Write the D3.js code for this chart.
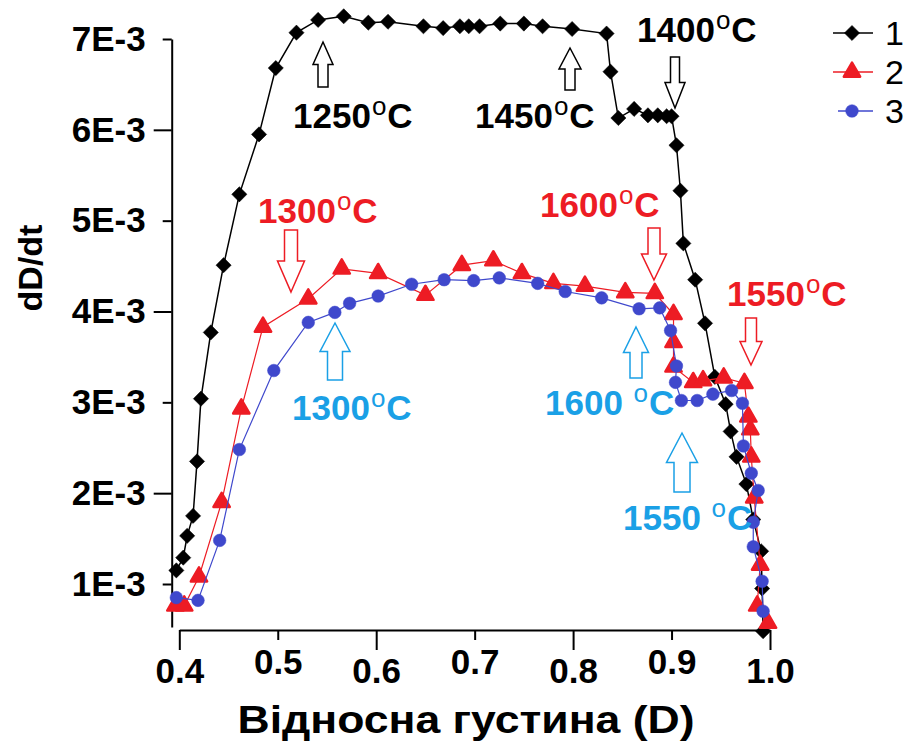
<!DOCTYPE html>
<html>
<head>
<meta charset="utf-8">
<script src="https://cdn.jsdelivr.net/npm/d3@7"></script>
<style>
  body { margin: 0; background: #fff; }
  text { font-family: "Liberation Sans", Arial, sans-serif; }
</style>
</head>
<body>
<div id="chart"></div>
<script>
// relative density D and dD/dt (in units of 1E-3)
const d1 = [0.397,0.404,0.408,0.414,0.418,0.422,0.432,0.445,0.461,0.481,0.498,0.519,0.541,0.567,0.592,0.612,0.648,0.668,0.685,0.694,0.705,0.726,0.750,0.769,0.799,0.834,0.838,0.846,0.862,0.876,0.886,0.895,0.900,0.905,0.909,0.912,0.924,0.934,0.944,0.955,0.960,0.966,0.976,0.983,0.991,0.992,0.993];
const v1 = [1.15,1.29,1.53,1.75,2.35,3.04,3.77,4.51,5.29,5.95,6.68,7.07,7.21,7.25,7.18,7.19,7.14,7.12,7.14,7.14,7.14,7.17,7.17,7.14,7.11,7.06,6.64,6.13,6.23,6.16,6.16,6.15,6.15,5.83,5.33,4.75,4.35,3.87,3.28,2.98,2.68,2.40,2.10,1.71,1.36,0.95,0.48];

const d2 = [0.396,0.405,0.420,0.443,0.463,0.485,0.531,0.565,0.602,0.650,0.687,0.719,0.748,0.780,0.812,0.853,0.883,0.902,0.902,0.902,0.922,0.932,0.953,0.974,0.978,0.980,0.981,0.984,0.990,0.987,0.998];
const v2 = [0.76,0.76,1.08,1.90,2.93,3.83,4.14,4.47,4.42,4.18,4.51,4.56,4.42,4.31,4.28,4.21,4.20,3.97,3.66,3.39,3.22,3.24,3.27,3.21,2.84,2.70,2.40,1.95,1.21,0.76,0.57];

const d3v = [0.397,0.419,0.441,0.461,0.496,0.531,0.558,0.573,0.602,0.636,0.669,0.699,0.725,0.764,0.792,0.829,0.867,0.888,0.899,0.905,0.904,0.910,0.926,0.942,0.961,0.972,0.973,0.981,0.988,0.983,0.983,0.992,0.993];
const v3 = [0.85,0.82,1.48,2.48,3.35,3.88,3.99,4.09,4.17,4.30,4.35,4.34,4.37,4.31,4.22,4.15,4.03,4.04,3.79,3.40,3.22,3.02,3.02,3.09,3.13,2.99,2.52,2.22,2.03,1.68,1.41,1.03,0.70];

const seriesNames = ["1", "2", "3"];
const xTicks = [0.4, 0.5, 0.6, 0.7, 0.8, 0.9, 1.0];
const yTicks = [1, 2, 3, 4, 5, 6, 7];
const yTickLabels = ["1E-3", "2E-3", "3E-3", "4E-3", "5E-3", "6E-3", "7E-3"];

const width = 909, height = 744;

const svg = d3.select("#chart").append("svg")
    .attr("width", width).attr("height", height);

const x = d3.scaleLinear().domain([0.4, 1.0]).range([179.3, 770]);
const y = d3.scaleLinear().domain([1, 7]).range([584, 39]);
const yBottom = 627;

// axes: alternate long/short ticks
const isLongX = v => Math.round(v * 10) % 2 === 0;
const isLongY = v => v % 2 === 0;

function styleAxis(g) {
    g.selectAll("path, line").attr("stroke", "#000").attr("stroke-width", 2);
    g.selectAll("text")
        .attr("fill", "#000")
        .attr("font-size", 35)
        .attr("font-weight", "bold")
        .attr("font-family", "Liberation Sans, Arial, sans-serif");
}

const xAxisG = svg.append("g").attr("transform", "translate(0,630)");
xAxisG.append("g")
    .call(d3.axisBottom(x).tickValues(xTicks.filter(isLongX)).tickSize(20).tickSizeOuter(0)
        .tickPadding(8).tickFormat(d3.format(".1f")))
    .call(styleAxis);
xAxisG.append("g")
    .call(d3.axisBottom(x).tickValues(xTicks.filter(v => !isLongX(v))).tickSize(10).tickSizeOuter(0)
        .tickPadding(9).tickFormat(d3.format(".1f")))
    .call(g => g.select(".domain").remove())
    .call(styleAxis);

const yScaleAxis = y.copy().domain([y.invert(yBottom), 7]).range([yBottom, 39]);
const yAxisG = svg.append("g").attr("transform", "translate(171.7,0)");
yAxisG.append("g")
    .call(d3.axisLeft(yScaleAxis).tickValues(yTicks.filter(isLongY)).tickSize(18).tickSizeOuter(0)
        .tickPadding(8).tickFormat(v => yTickLabels[yTicks.indexOf(v)]))
    .call(styleAxis);
yAxisG.append("g")
    .call(d3.axisLeft(yScaleAxis).tickValues(yTicks.filter(v => !isLongY(v))).tickSize(9).tickSizeOuter(0)
        .tickPadding(17).tickFormat(v => yTickLabels[yTicks.indexOf(v)]))
    .call(g => g.select(".domain").remove())
    .call(styleAxis);

// axis titles
svg.append("text")
    .attr("x", 466).attr("y", 733)
    .attr("text-anchor", "middle")
    .attr("font-size", 38).attr("font-weight", "bold")
    .attr("textLength", 457).attr("lengthAdjust", "spacingAndGlyphs")
    .text("Відносна густина (D)");

svg.append("text")
    .attr("transform", "translate(42,268) rotate(-90)")
    .attr("text-anchor", "middle")
    .attr("font-size", 34).attr("font-weight", "bold")
    .text("dD/dt");

// series
const series = [
    { name: seriesNames[0], xs: d1, ys: v1, color: "#000000", symbol: d3.symbolSquare, size: 115, rotate: 45, lw: 1.5 },
    { name: seriesNames[1], xs: d2, ys: v2, color: "#ed1c24", symbol: d3.symbolTriangle, size: 115, rotate: 0, lw: 1.2 },
    { name: seriesNames[2], xs: d3v, ys: v3, color: "#3f48cc", symbol: d3.symbolCircle, size: 125, rotate: 0, lw: 1.2 }
];

const line = d3.line().x(d => x(d[0])).y(d => y(d[1]));

series.forEach(s => {
    const pts = s.xs.map((v, i) => [v, s.ys[i]]);
    const g = svg.append("g");
    g.append("path")
        .datum(pts)
        .attr("d", line)
        .attr("fill", "none")
        .attr("stroke", s.color)
        .attr("stroke-width", s.lw);
    g.selectAll("path.m")
        .data(pts)
        .join("path")
        .attr("class", "m")
        .attr("d", d3.symbol(s.symbol, s.size))
        .attr("transform", d => `translate(${x(d[0])},${y(d[1])}) rotate(${s.rotate})`)
        .attr("fill", s.color)
        .attr("stroke", s.color)
        .attr("stroke-width", s.symbol === d3.symbolTriangle ? 2.5 : 0.5)
        .attr("stroke-linejoin", "round");
});

// legend
const legend = svg.append("g");
series.forEach((s, i) => {
    const ly = 33 + i * 39;
    legend.append("line")
        .attr("x1", i === 2 ? 838 : 833).attr("x2", 873)
        .attr("y1", ly).attr("y2", ly)
        .attr("stroke", s.color).attr("stroke-width", 1.5);
    legend.append("path")
        .attr("d", d3.symbol(s.symbol, s.size))
        .attr("transform", `translate(852,${ly}) rotate(${s.rotate})`)
        .attr("fill", s.color).attr("stroke", s.color)
        .attr("stroke-width", s.symbol === d3.symbolTriangle ? 2.5 : 0.5)
        .attr("stroke-linejoin", "round");
    legend.append("text")
        .attr("x", 885).attr("y", ly + 12)
        .attr("font-size", 34)
        .attr("fill", "#000")
        .text(s.name);
});

// temperature annotations
const blackC = "#000000", redC = "#ed1c24", cyanC = "#1aa0e6";
const notes = [
    { t: "1250", gap: "", c: blackC, tx: 293, ty: 128, ax: 323, a0: 42, a1: 87, dir: "up", W: 20, w: 10 },
    { t: "1450", gap: "", c: blackC, tx: 475, ty: 128, ax: 570, a0: 48, a1: 90, dir: "up", W: 22, w: 10 },
    { t: "1400", gap: "", c: blackC, tx: 637, ty: 42, ax: 675, a0: 57, a1: 108, dir: "down", W: 20, w: 9 },
    { t: "1300", gap: "", c: redC, tx: 258, ty: 223, ax: 291, a0: 230, a1: 292, dir: "down", W: 27, w: 13 },
    { t: "1600", gap: "", c: redC, tx: 540, ty: 217, ax: 654, a0: 228, a1: 280, dir: "down", W: 25, w: 12 },
    { t: "1550", gap: "", c: redC, tx: 727, ty: 306, ax: 751, a0: 318, a1: 365, dir: "down", W: 22, w: 11 },
    { t: "1300", gap: "", c: cyanC, tx: 292, ty: 420, ax: 335, a0: 323, a1: 380, dir: "up", W: 30, w: 15 },
    { t: "1600", gap: " ", c: cyanC, tx: 545, ty: 415, ax: 636, a0: 327, a1: 378, dir: "up", W: 25, w: 12 },
    { t: "1550", gap: " ", c: cyanC, tx: 623, ty: 530, ax: 682, a0: 433, a1: 492, dir: "up", W: 31, w: 16 }
];

function arrowPath(n) {
    const L = n.a1 - n.a0, h = L * 0.5;
    const c = n.ax, W = n.W / 2, w = n.w / 2;
    const t = n.a0, b = n.a1;
    if (n.dir === "up") {
        return `M${c},${t} L${c + W},${t + h} L${c + w},${t + h} L${c + w},${b} L${c - w},${b} L${c - w},${t + h} L${c - W},${t + h} Z`;
    }
    return `M${c},${b} L${c + W},${b - h} L${c + w},${b - h} L${c + w},${t} L${c - w},${t} L${c - w},${b - h} L${c - W},${b - h} Z`;
}

notes.forEach(n => {
    svg.append("path")
        .attr("d", arrowPath(n))
        .attr("fill", "#fff")
        .attr("stroke", n.c)
        .attr("stroke-width", 1.5);
    const t = svg.append("text")
        .attr("x", n.tx).attr("y", n.ty)
        .attr("fill", n.c)
        .attr("font-size", 35)
        .attr("font-weight", "bold");
    t.append("tspan").text(n.t + n.gap);
    t.append("tspan").attr("font-size", 26).attr("font-weight", "normal").attr("dx", 1).attr("dy", -13).text("o");
    t.append("tspan").attr("dy", 13).attr("dx", 1).text("C");
});
</script>
</body>
</html>
